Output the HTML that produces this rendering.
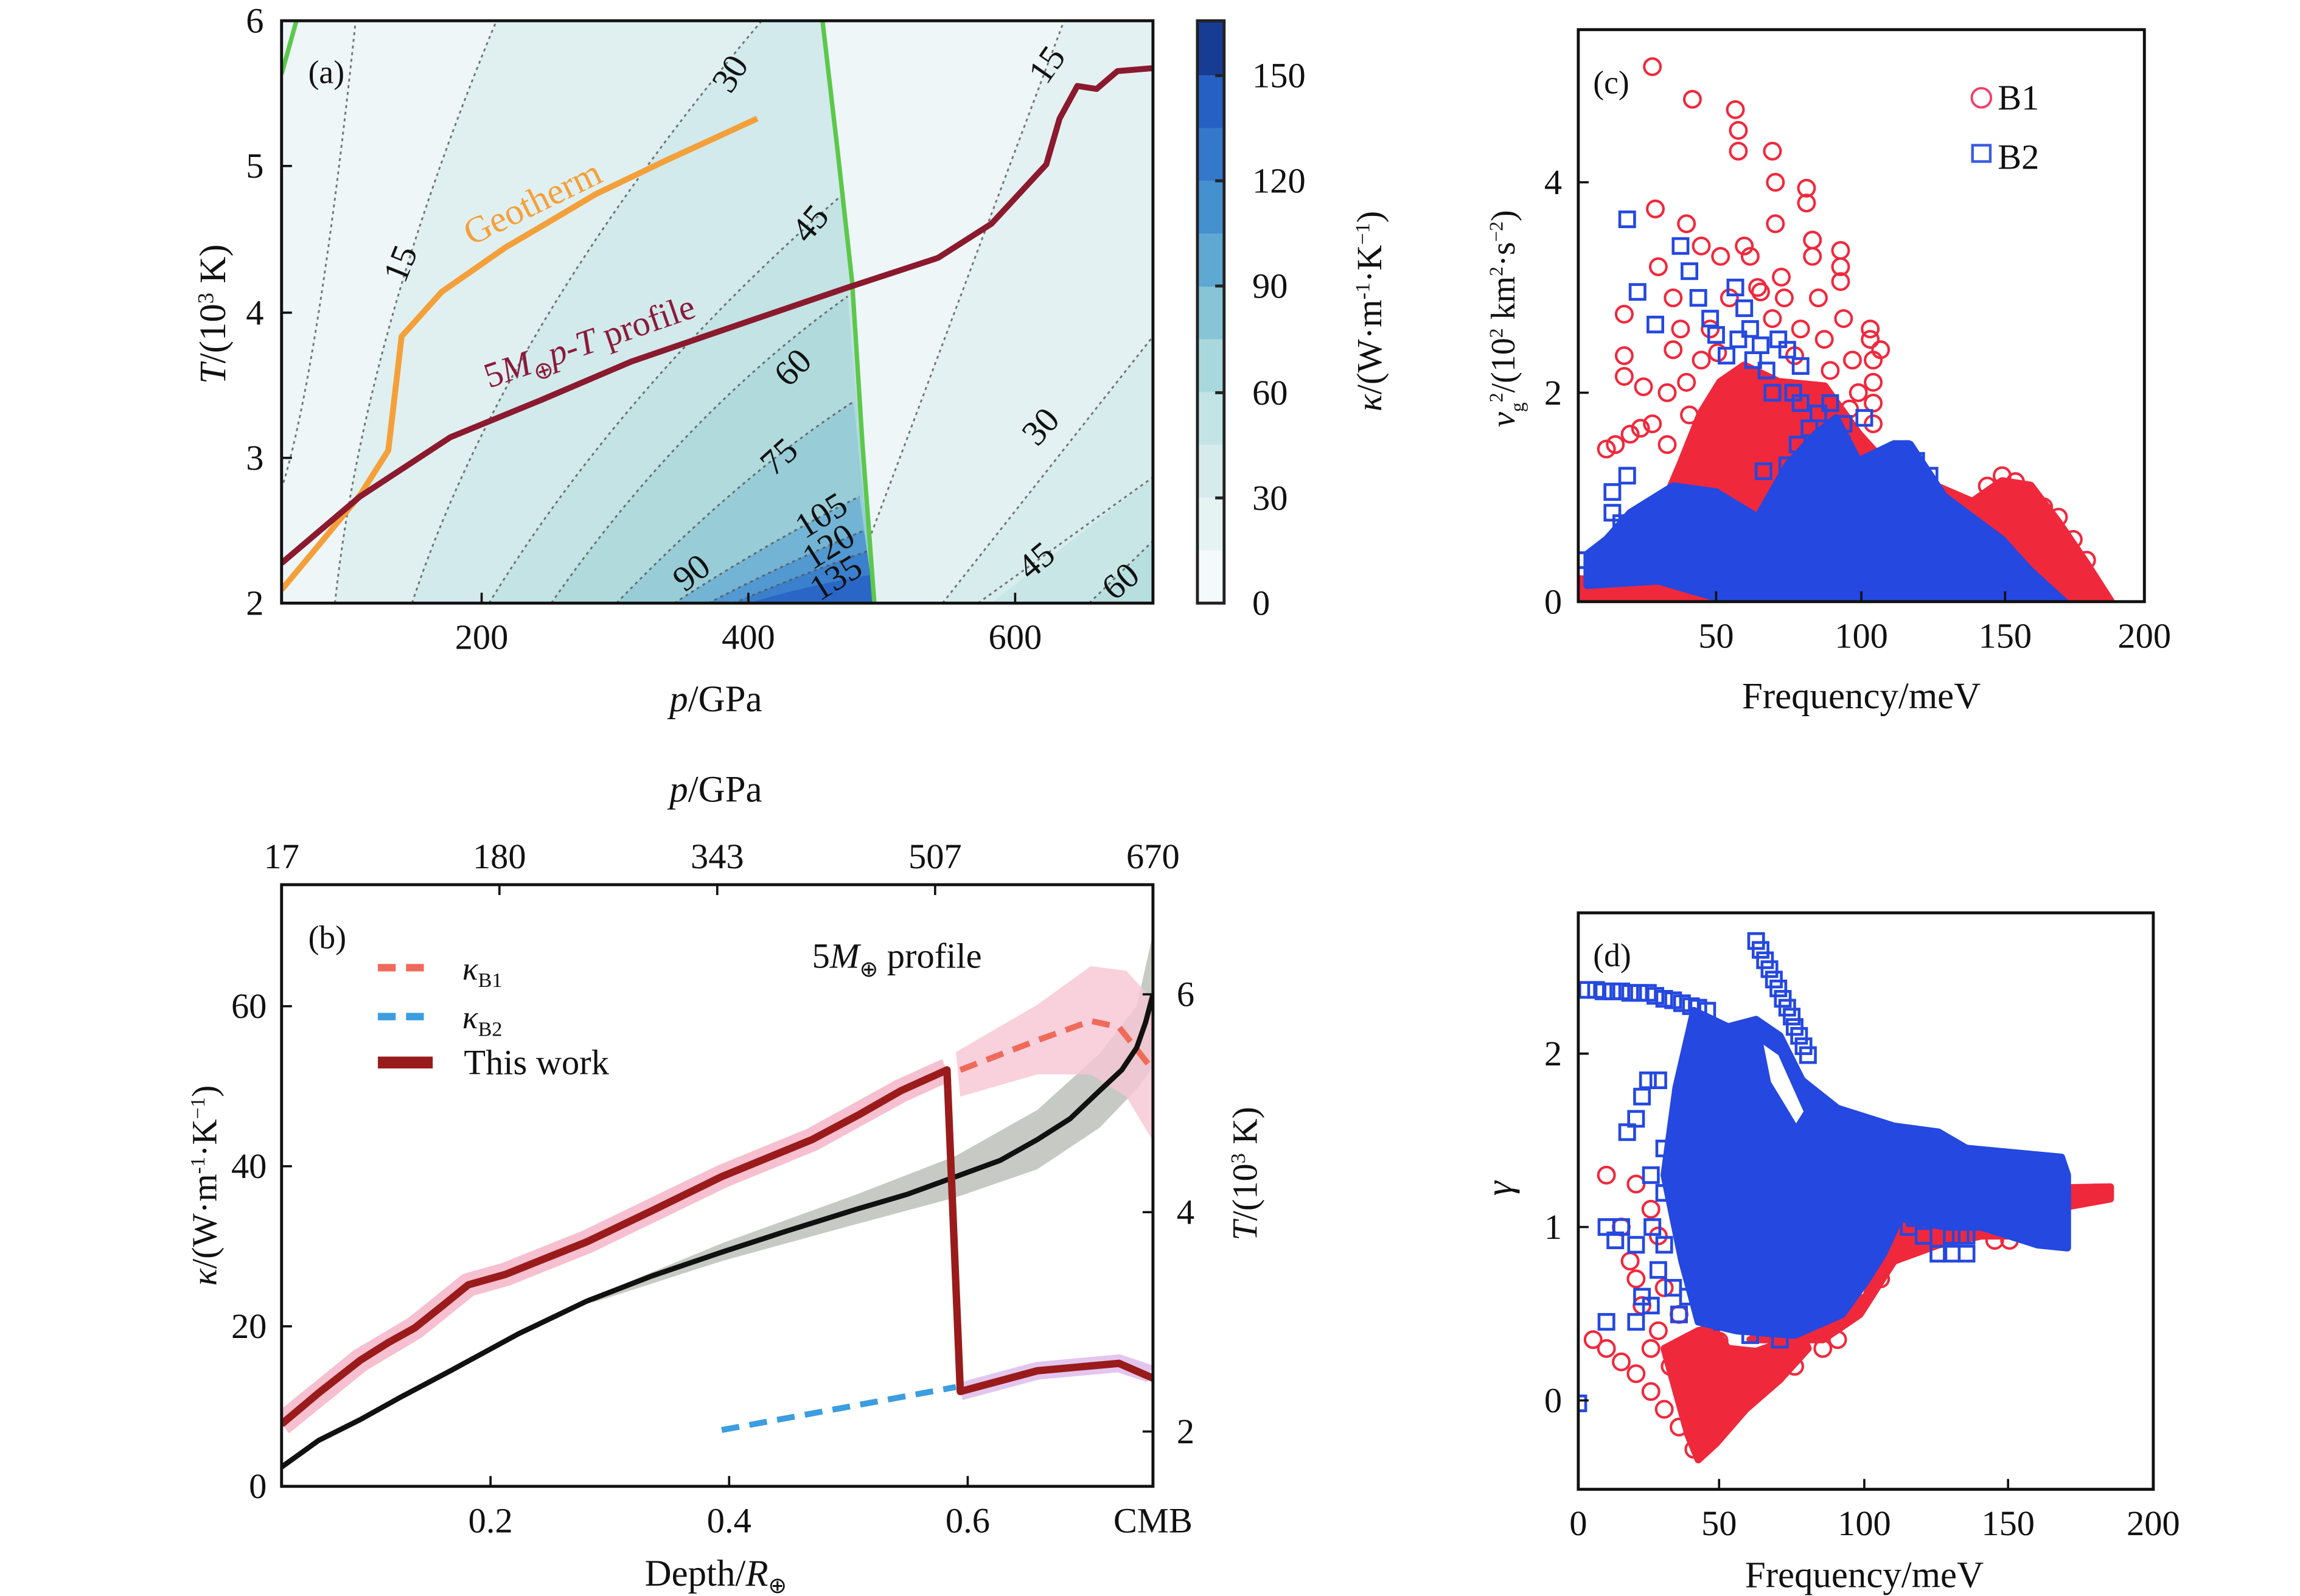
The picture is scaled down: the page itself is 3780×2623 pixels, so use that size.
<!DOCTYPE html>
<html><head><meta charset="utf-8"><style>
html,body{margin:0;padding:0;background:#fff}
svg{display:block}
text{font-family:"Liberation Serif",serif;fill:#111}
</style></head><body>
<svg width="3780" height="2623" viewBox="0 0 1552 1077" preserveAspectRatio="none" xmlns="http://www.w3.org/2000/svg" xmlns:xlink="http://www.w3.org/1999/xlink">
<defs>
<clipPath id="ca"><rect x="190" y="14" width="588" height="393"/></clipPath>
<clipPath id="cb"><rect x="190" y="597" width="588" height="406"/></clipPath>
<clipPath id="cc"><rect x="1065" y="20" width="382" height="386"/></clipPath>
<clipPath id="cd"><rect x="1065" y="616" width="388" height="389"/></clipPath>
<circle id="o" cx="0" cy="0" r="5.5" fill="none" stroke="#f0283c" stroke-width="1.7"/>
<rect id="q" x="-5" y="-5" width="10" height="10" fill="none" stroke="#2448e0" stroke-width="1.9"/>
</defs>
<rect width="1552" height="1077" fill="#fff"/>

<!-- ===== Panel (a) ===== -->
<g clip-path="url(#ca)">
<rect x="190" y="14" width="588" height="393" fill="#eef6f8"/>
<path d="M226,407 Q245,230 335,14 L555,14 L575,190 L590,407Z" fill="#e0f0f1"/>
<path d="M278,407 Q340,220 514,14 L555,14 L575,190 L590,407Z" fill="#d2eaeb"/>
<path d="M330,407 Q420,260 570,130 L575,190 L590,407Z" fill="#c3e3e4"/>
<path d="M372,407 Q460,280 572,200 L590,407Z" fill="#b1dadd"/>
<path d="M416,407 Q500,320 576,271 L590,407Z" fill="#98cdd8"/>
<path d="M455,407 Q520,365 580,335 L590,407Z" fill="#73b4d4"/>
<path d="M478,407 Q530,380 583,358 L590,407Z" fill="#5298d1"/>
<path d="M495,407 Q540,388 585,372 L590,407Z" fill="#3b80cc"/>
<path d="M505,407 Q545,395 587,388 L590,407Z" fill="#2a66c6"/>
<path d="M588,360 L718,14 L778,14 L778,407 L590,407Z" fill="#e4f1f2"/>
<path d="M636,407 L778,227 L778,407Z" fill="#d7ecec"/>
<path d="M669,407 L778,322 L778,407Z" fill="#c8e6e6"/>
<path d="M735,407 L778,365 L778,407Z" fill="#b8dfe0"/>
<g fill="none" stroke="#555" stroke-width="1.2" stroke-dasharray="2,2.5" opacity="0.8">
<path d="M190,330 Q215,250 240,14"/>
<path d="M226,407 Q245,230 335,14"/>
<path d="M278,407 Q340,220 514,14"/>
<path d="M330,407 Q420,260 570,130"/>
<path d="M372,407 Q460,280 572,200"/>
<path d="M416,407 Q500,320 576,271"/>
<path d="M455,407 Q520,365 580,335"/>
<path d="M478,407 Q530,380 583,358"/>
<path d="M495,407 Q540,388 585,372"/>
<path d="M588,360 L718,14"/>
<path d="M636,407 L778,227"/>
<path d="M660,407 L778,322"/>
<path d="M735,407 L778,365"/>
</g>
<path d="M555,14 L565,100 L575,190 L582,300 L590,407" fill="none" stroke="#5cc84a" stroke-width="3"/>
<path d="M190,50 L200,14" fill="none" stroke="#5cc84a" stroke-width="3"/>
<polyline points="190,398 215,368 243,334 262,304 266,270 271,227 298,197 341,167 370,150 402,131 450,108 511,80" fill="none" stroke="#f4a03a" stroke-width="4" stroke-linejoin="round"/>
<polyline points="190,380 243,335 304,295 365,270 426,244 487,223 572,194 633,174 669,151 706,111 715,80 727,58 740,60 754,48 778,46" fill="none" stroke="#8b1a2e" stroke-width="4" stroke-linejoin="round"/>
</g>
<rect x="190" y="14" width="588" height="393" fill="none" stroke="#111" stroke-width="2"/>
<g font-size="24">
<text x="208" y="56" font-size="22">(a)</text>
<text transform="translate(273,192) rotate(-68)">15</text>
<text transform="translate(493,64) rotate(-58)">30</text>
<text transform="translate(545,165) rotate(-50)">45</text>
<text transform="translate(532,262) rotate(-45)">60</text>
<text transform="translate(522,322) rotate(-42)">75</text>
<text transform="translate(462,400) rotate(-38)">90</text>
<text transform="translate(543,364) rotate(-32)">105</text>
<text transform="translate(548,385) rotate(-32)">120</text>
<text transform="translate(553,406) rotate(-32)">135</text>
<text transform="translate(706,58) rotate(-55)">15</text>
<text transform="translate(700,302) rotate(-48)">30</text>
<text transform="translate(695,392) rotate(-40)">45</text>
<text transform="translate(752,406) rotate(-40)">60</text>
<text transform="translate(318,166) rotate(-26)" font-size="25" style="fill:#f4a03a">Geotherm</text>
<text transform="translate(330,262) rotate(-19)" style="fill:#8b1a3a">5<tspan font-style="italic">M</tspan><tspan font-size="16" dy="6">⊕</tspan><tspan dy="-6" font-style="italic">p</tspan>-<tspan font-style="italic">T</tspan> profile</text>
<text x="178" y="22" text-anchor="end">6</text>
<text x="178" y="120" text-anchor="end">5</text>
<text x="178" y="219" text-anchor="end">4</text>
<text x="178" y="317" text-anchor="end">3</text>
<text x="178" y="415" text-anchor="end">2</text>
<text x="325" y="438" text-anchor="middle">200</text>
<text x="505" y="438" text-anchor="middle">400</text>
<text x="685" y="438" text-anchor="middle">600</text>
<text x="483" y="480" text-anchor="middle" font-size="25"><tspan font-style="italic">p</tspan>/GPa</text>
<text transform="translate(152,212) rotate(-90)" text-anchor="middle" font-size="25"><tspan font-style="italic">T</tspan>/(10<tspan font-size="15" dy="-8">3</tspan><tspan dy="8"> K)</tspan></text>
</g>
<g stroke="#111" stroke-width="1.5">
<line x1="325" y1="407" x2="325" y2="400"/><line x1="505" y1="407" x2="505" y2="400"/><line x1="685" y1="407" x2="685" y2="400"/>
<line x1="190" y1="112" x2="197" y2="112"/><line x1="190" y1="211" x2="197" y2="211"/><line x1="190" y1="309" x2="197" y2="309"/>
</g>
<!-- colorbar -->
<g>
<rect x="808" y="371.4" width="18" height="35.6" fill="#f4f9fb"/>
<rect x="808" y="335.8" width="18" height="35.6" fill="#e6f3f3"/>
<rect x="808" y="300.2" width="18" height="35.6" fill="#d6ecec"/>
<rect x="808" y="264.6" width="18" height="35.6" fill="#c3e4e4"/>
<rect x="808" y="229" width="18" height="35.6" fill="#a9d8dc"/>
<rect x="808" y="193.4" width="18" height="35.6" fill="#86c4d6"/>
<rect x="808" y="157.8" width="18" height="35.6" fill="#5ea8d2"/>
<rect x="808" y="122.2" width="18" height="35.6" fill="#4590cf"/>
<rect x="808" y="86.6" width="18" height="35.6" fill="#3478cb"/>
<rect x="808" y="51" width="18" height="35.6" fill="#2660c2"/>
<rect x="808" y="14" width="18" height="37" fill="#173c94"/>
<rect x="808" y="14" width="18" height="393" fill="none" stroke="#222" stroke-width="2"/>
<g stroke="#222" stroke-width="2">
<line x1="820" y1="51" x2="826" y2="51"/><line x1="820" y1="122" x2="826" y2="122"/><line x1="820" y1="193" x2="826" y2="193"/><line x1="820" y1="265" x2="826" y2="265"/><line x1="820" y1="336" x2="826" y2="336"/>
</g>
<g font-size="24">
<text x="845" y="59">150</text><text x="845" y="130">120</text><text x="845" y="201">90</text><text x="845" y="273">60</text><text x="845" y="344">30</text><text x="845" y="415">0</text>
<text transform="translate(932,210) rotate(-90)" text-anchor="middle" font-size="24"><tspan font-style="italic">κ</tspan>/(W·m<tspan font-size="14" dy="-8">-1</tspan><tspan dy="8">·K</tspan><tspan font-size="14" dy="-8">−1</tspan><tspan dy="8">)</tspan></text>
</g>
</g>

<!-- ===== Panel (b) ===== -->
<g clip-path="url(#cb)">
<polygon points="400,875 487,839 578,806 645,780 700,749 742,711 767,679 778,630 778,720 767,735 742,761 700,789 645,808 578,826 487,851 400,879" fill="#b9bdb5" opacity="0.8"/>
<polyline points="190,961 243,918 280,896 316,867 341,860 396,838 487,794 548,769 608,736 639,722" fill="none" stroke="#f6c0d0" stroke-width="16" stroke-linejoin="round"/>
<polygon points="645,710 700,678 736,652 760,655 778,675 778,770 760,740 736,725 700,725 648,740" fill="#f6c5d5" opacity="0.8"/>
<polyline points="648,939 700,925 755,920 776,927" fill="none" stroke="#e3c6ee" stroke-width="12"/>
<polyline points="648,722 700,702 736,689 755,693 778,722" fill="none" stroke="#f06a5a" stroke-width="4" stroke-dasharray="12,7"/>
<polyline points="487,965 645,936" fill="none" stroke="#3c9de0" stroke-width="4" stroke-dasharray="12,7"/>
<polyline points="190,990 215,972 243,958 270,943 304,925 350,900 396,878 440,861 487,845 530,831 578,816 612,806 645,794 675,783 700,769 722,755 742,736 757,722 767,707 773,690 778,671" fill="none" stroke="#111" stroke-width="3.5"/>
<polyline points="190,961 215,940 243,918 262,906 280,896 300,880 316,867 341,860 396,838 440,817 487,794 548,769 580,752 608,736 639,722 648,939 700,925 755,920 778,930" fill="none" stroke="#9a1b1b" stroke-width="5" stroke-linejoin="round"/>
</g>
<rect x="190" y="597" width="588" height="406" fill="none" stroke="#111" stroke-width="2"/>
<g stroke="#111" stroke-width="1.5">
<line x1="337" y1="597" x2="337" y2="604"/><line x1="484" y1="597" x2="484" y2="604"/><line x1="631" y1="597" x2="631" y2="604"/>
<line x1="331" y1="1003" x2="331" y2="996"/><line x1="492" y1="1003" x2="492" y2="996"/><line x1="653" y1="1003" x2="653" y2="996"/>
<line x1="190" y1="679" x2="197" y2="679"/><line x1="190" y1="787" x2="197" y2="787"/><line x1="190" y1="895" x2="197" y2="895"/>
<line x1="778" y1="671" x2="771" y2="671"/><line x1="778" y1="818" x2="771" y2="818"/><line x1="778" y1="966" x2="771" y2="966"/>
</g>
<g font-size="24">
<text x="208" y="640" font-size="22">(b)</text>
<line x1="255" y1="653" x2="292" y2="653" stroke="#f06a5a" stroke-width="5" stroke-dasharray="12,7"/>
<line x1="255" y1="686" x2="292" y2="686" stroke="#3c9de0" stroke-width="5" stroke-dasharray="12,7"/>
<line x1="255" y1="717" x2="292" y2="717" stroke="#9a1b1b" stroke-width="8"/>
<text x="312" y="661" font-style="italic" font-size="22">κ<tspan font-style="normal" font-size="14" dy="5">B1</tspan></text>
<text x="312" y="694" font-style="italic" font-size="22">κ<tspan font-style="normal" font-size="14" dy="5">B2</tspan></text>
<text x="313" y="725">This work</text>
<text x="548" y="653">5<tspan font-style="italic">M</tspan><tspan font-size="15" dy="6">⊕</tspan><tspan dy="-6"> profile</tspan></text>
<text x="190" y="586" text-anchor="middle">17</text>
<text x="337" y="586" text-anchor="middle">180</text>
<text x="484" y="586" text-anchor="middle">343</text>
<text x="631" y="586" text-anchor="middle">507</text>
<text x="778" y="586" text-anchor="middle">670</text>
<text x="483" y="541" text-anchor="middle" font-size="25"><tspan font-style="italic">p</tspan>/GPa</text>
<text x="180" y="687" text-anchor="end">60</text>
<text x="180" y="795" text-anchor="end">40</text>
<text x="180" y="903" text-anchor="end">20</text>
<text x="180" y="1011" text-anchor="end">0</text>
<text x="794" y="679">6</text><text x="794" y="826">4</text><text x="794" y="974">2</text>
<text x="331" y="1034" text-anchor="middle">0.2</text>
<text x="492" y="1034" text-anchor="middle">0.4</text>
<text x="653" y="1034" text-anchor="middle">0.6</text>
<text x="778" y="1034" text-anchor="middle">CMB</text>
<text x="483" y="1070" text-anchor="middle" font-size="25">Depth/<tspan font-style="italic">R</tspan><tspan font-size="15" dy="5">⊕</tspan></text>
<text transform="translate(146,800) rotate(-90)" text-anchor="middle"><tspan font-style="italic">κ</tspan>/(W·m<tspan font-size="14" dy="-8">-1</tspan><tspan dy="8">·K</tspan><tspan font-size="14" dy="-8">−1</tspan><tspan dy="8">)</tspan></text>
<text transform="translate(848,792) rotate(-90)" text-anchor="middle"><tspan font-style="italic">T</tspan>/(10<tspan font-size="14" dy="-8">3</tspan><tspan dy="8"> K)</tspan></text>
</g>

<!-- ===== Panel (c) ===== -->
<g clip-path="url(#cc)">
<polygon points="1134,314 1148,279 1161,258 1177,247 1200,258 1231,261 1254,293 1273,314 1331,339 1351,325 1370,328 1389,353 1408,381 1424,406 1177,406 1138,385 1119,349" fill="#f0283c" stroke="#f0283c" stroke-width="6" stroke-linejoin="round"/>
<polygon points="1065,388 1109,392 1158,402 1167,406 1065,406" fill="#f0283c"/>
<g>
<use xlink:href="#o" x="1115" y="45"/><use xlink:href="#o" x="1142" y="67"/><use xlink:href="#o" x="1171" y="74"/><use xlink:href="#o" x="1173" y="88"/><use xlink:href="#o" x="1173" y="102"/><use xlink:href="#o" x="1196" y="102"/><use xlink:href="#o" x="1198" y="123"/><use xlink:href="#o" x="1198" y="151"/><use xlink:href="#o" x="1219" y="127"/><use xlink:href="#o" x="1219" y="137"/><use xlink:href="#o" x="1223" y="162"/><use xlink:href="#o" x="1223" y="173"/><use xlink:href="#o" x="1242" y="169"/><use xlink:href="#o" x="1242" y="180"/><use xlink:href="#o" x="1242" y="190"/><use xlink:href="#o" x="1117" y="141"/><use xlink:href="#o" x="1138" y="151"/><use xlink:href="#o" x="1177" y="166"/><use xlink:href="#o" x="1148" y="166"/><use xlink:href="#o" x="1202" y="187"/><use xlink:href="#o" x="1204" y="201"/><use xlink:href="#o" x="1227" y="201"/><use xlink:href="#o" x="1244" y="215"/><use xlink:href="#o" x="1262" y="222"/><use xlink:href="#o" x="1262" y="229"/><use xlink:href="#o" x="1264" y="243"/><use xlink:href="#o" x="1264" y="258"/><use xlink:href="#o" x="1264" y="272"/><use xlink:href="#o" x="1264" y="286"/><use xlink:href="#o" x="1096" y="212"/><use xlink:href="#o" x="1096" y="240"/><use xlink:href="#o" x="1096" y="254"/><use xlink:href="#o" x="1109" y="261"/><use xlink:href="#o" x="1084" y="303"/><use xlink:href="#o" x="1090" y="300"/><use xlink:href="#o" x="1100" y="293"/><use xlink:href="#o" x="1115" y="286"/><use xlink:href="#o" x="1125" y="265"/><use xlink:href="#o" x="1129" y="236"/><use xlink:href="#o" x="1134" y="222"/><use xlink:href="#o" x="1154" y="222"/><use xlink:href="#o" x="1167" y="201"/><use xlink:href="#o" x="1186" y="194"/><use xlink:href="#o" x="1196" y="215"/><use xlink:href="#o" x="1215" y="222"/><use xlink:href="#o" x="1235" y="250"/><use xlink:href="#o" x="1254" y="265"/><use xlink:href="#o" x="1119" y="180"/><use xlink:href="#o" x="1129" y="201"/><use xlink:href="#o" x="1161" y="173"/><use xlink:href="#o" x="1181" y="173"/><use xlink:href="#o" x="1188" y="197"/><use xlink:href="#o" x="1231" y="229"/><use xlink:href="#o" x="1250" y="243"/><use xlink:href="#o" x="1269" y="236"/><use xlink:href="#o" x="1107" y="289"/><use xlink:href="#o" x="1138" y="258"/><use xlink:href="#o" x="1148" y="243"/><use xlink:href="#o" x="1351" y="321"/><use xlink:href="#o" x="1370" y="335"/><use xlink:href="#o" x="1379" y="342"/><use xlink:href="#o" x="1389" y="349"/><use xlink:href="#o" x="1399" y="364"/><use xlink:href="#o" x="1408" y="378"/><use xlink:href="#o" x="1360" y="325"/><use xlink:href="#o" x="1341" y="328"/><use xlink:href="#o" x="1125" y="300"/><use xlink:href="#o" x="1140" y="280"/><use xlink:href="#o" x="1159" y="238"/><use xlink:href="#o" x="1211" y="240"/><use xlink:href="#o" x="1248" y="276"/><use xlink:href="#o" x="1076" y="392"/><use xlink:href="#o" x="1090" y="392"/>
</g>
<polygon points="1071,374 1084,364 1100,346 1129,328 1158,332 1186,349 1206,314 1225,293 1239,282 1254,311 1277,300 1289,300 1312,335 1351,364 1370,385 1393,406 1167,406 1119,392 1071,395" fill="#2448e0" stroke="#2448e0" stroke-width="5" stroke-linejoin="round"/>
<g>
<use xlink:href="#q" x="1098" y="148"/><use xlink:href="#q" x="1134" y="166"/><use xlink:href="#q" x="1140" y="183"/><use xlink:href="#q" x="1105" y="197"/><use xlink:href="#q" x="1117" y="219"/><use xlink:href="#q" x="1146" y="201"/><use xlink:href="#q" x="1154" y="215"/><use xlink:href="#q" x="1171" y="194"/><use xlink:href="#q" x="1177" y="208"/><use xlink:href="#q" x="1181" y="222"/><use xlink:href="#q" x="1173" y="229"/><use xlink:href="#q" x="1183" y="243"/><use xlink:href="#q" x="1192" y="250"/><use xlink:href="#q" x="1200" y="229"/><use xlink:href="#q" x="1206" y="236"/><use xlink:href="#q" x="1196" y="265"/><use xlink:href="#q" x="1210" y="265"/><use xlink:href="#q" x="1215" y="272"/><use xlink:href="#q" x="1221" y="289"/><use xlink:href="#q" x="1227" y="279"/><use xlink:href="#q" x="1235" y="272"/><use xlink:href="#q" x="1244" y="286"/><use xlink:href="#q" x="1258" y="282"/><use xlink:href="#q" x="1206" y="314"/><use xlink:href="#q" x="1208" y="325"/><use xlink:href="#q" x="1231" y="335"/><use xlink:href="#q" x="1233" y="321"/><use xlink:href="#q" x="1088" y="332"/><use xlink:href="#q" x="1098" y="321"/><use xlink:href="#q" x="1088" y="346"/><use xlink:href="#q" x="1094" y="353"/><use xlink:href="#q" x="1067" y="378"/><use xlink:href="#q" x="1075" y="378"/><use xlink:href="#q" x="1158" y="226"/><use xlink:href="#q" x="1165" y="240"/><use xlink:href="#q" x="1188" y="233"/><use xlink:href="#q" x="1215" y="247"/><use xlink:href="#q" x="1283" y="303"/><use xlink:href="#q" x="1293" y="311"/><use xlink:href="#q" x="1302" y="321"/><use xlink:href="#q" x="1213" y="300"/><use xlink:href="#q" x="1243" y="300"/><use xlink:href="#q" x="1190" y="318"/>
</g>
</g>
<rect x="1065" y="20" width="382" height="386" fill="none" stroke="#111" stroke-width="2"/>
<g stroke="#111" stroke-width="1.5">
<line x1="1065" y1="265" x2="1072" y2="265"/><line x1="1065" y1="123" x2="1072" y2="123"/>
<line x1="1158" y1="406" x2="1158" y2="399"/><line x1="1256" y1="406" x2="1256" y2="399"/><line x1="1353" y1="406" x2="1353" y2="399"/>
</g>
<g font-size="24">
<text x="1075" y="63" font-size="22">(c)</text>
<circle cx="1337" cy="66" r="6.5" fill="none" stroke="#f0406a" stroke-width="1.6"/>
<text x="1348" y="74">B1</text>
<rect x="1331" y="98" width="12" height="11" fill="none" stroke="#3a5be0" stroke-width="1.8"/>
<text x="1348" y="114">B2</text>
<text x="1054" y="131" text-anchor="end">4</text>
<text x="1054" y="273" text-anchor="end">2</text>
<text x="1054" y="414" text-anchor="end">0</text>
<text x="1158" y="437" text-anchor="middle">50</text>
<text x="1256" y="437" text-anchor="middle">100</text>
<text x="1353" y="437" text-anchor="middle">150</text>
<text x="1447" y="437" text-anchor="middle">200</text>
<text x="1256" y="478" text-anchor="middle" font-size="25">Frequency/meV</text>
<text transform="translate(1022,215) rotate(-90)" text-anchor="middle" font-size="23"><tspan font-style="italic">v</tspan><tspan font-size="13" dy="6">g</tspan><tspan font-size="13" dy="-14">2</tspan><tspan dy="8">/(10</tspan><tspan font-size="13" dy="-8">2</tspan><tspan dy="8"> km</tspan><tspan font-size="13" dy="-8">2</tspan><tspan dy="8">·s</tspan><tspan font-size="13" dy="-8">−2</tspan><tspan dy="8">)</tspan></text>
</g>

<!-- ===== Panel (d) ===== -->
<g clip-path="url(#cd)">
<polygon points="1123,910 1139,968 1146,985 1158,974 1178,951 1201,931 1220,910 1216,901 1185,912 1166,910 1156,896 1146,898" fill="#f0283c" stroke="#f0283c" stroke-width="5" stroke-linejoin="round"/>
<polygon points="1259,875 1282,816 1294,805 1337,802 1375,802 1424,801 1424,809 1385,816 1366,834 1337,834 1308,840 1278,851 1255,887 1230,904 1181,904" fill="#f0283c" stroke="#f0283c" stroke-width="5" stroke-linejoin="round"/>
<g>
<use xlink:href="#o" x="1075" y="904"/><use xlink:href="#o" x="1084" y="910"/><use xlink:href="#o" x="1094" y="919"/><use xlink:href="#o" x="1104" y="927"/><use xlink:href="#o" x="1114" y="939"/><use xlink:href="#o" x="1123" y="951"/><use xlink:href="#o" x="1133" y="963"/><use xlink:href="#o" x="1143" y="978"/><use xlink:href="#o" x="1172" y="945"/><use xlink:href="#o" x="1191" y="933"/><use xlink:href="#o" x="1211" y="922"/><use xlink:href="#o" x="1084" y="793"/><use xlink:href="#o" x="1100" y="851"/><use xlink:href="#o" x="1104" y="863"/><use xlink:href="#o" x="1114" y="816"/><use xlink:href="#o" x="1119" y="834"/><use xlink:href="#o" x="1104" y="799"/><use xlink:href="#o" x="1108" y="881"/><use xlink:href="#o" x="1119" y="898"/><use xlink:href="#o" x="1127" y="922"/><use xlink:href="#o" x="1133" y="887"/><use xlink:href="#o" x="1114" y="910"/><use xlink:href="#o" x="1123" y="869"/><use xlink:href="#o" x="1139" y="927"/><use xlink:href="#o" x="1230" y="910"/><use xlink:href="#o" x="1240" y="904"/><use xlink:href="#o" x="1269" y="863"/><use xlink:href="#o" x="1346" y="837"/><use xlink:href="#o" x="1356" y="837"/><use xlink:href="#o" x="1414" y="805"/><use xlink:href="#o" x="1420" y="805"/><use xlink:href="#o" x="1094" y="828"/><use xlink:href="#o" x="1160" y="905"/>
</g>
<polygon points="1143,682 1166,693 1185,688 1201,699 1216,729 1240,748 1278,760 1308,764 1327,775 1391,781 1395,793 1395,842 1375,840 1337,828 1313,828 1282,822 1271,846 1259,865 1243,887 1211,901 1172,898 1146,892 1135,851 1123,793 1131,734" fill="#2448e0" stroke="#2448e0" stroke-width="5" stroke-linejoin="round"/>
<polygon points="1190,705 1200,712 1217,750 1212,758 1195,730" fill="#fff"/>
<g>
<use xlink:href="#q" x="1071" y="668"/><use xlink:href="#q" x="1077" y="668"/><use xlink:href="#q" x="1082" y="669"/><use xlink:href="#q" x="1088" y="669"/><use xlink:href="#q" x="1094" y="669"/><use xlink:href="#q" x="1100" y="670"/><use xlink:href="#q" x="1106" y="670"/><use xlink:href="#q" x="1112" y="670"/><use xlink:href="#q" x="1117" y="672"/><use xlink:href="#q" x="1123" y="674"/><use xlink:href="#q" x="1129" y="675"/><use xlink:href="#q" x="1135" y="677"/><use xlink:href="#q" x="1141" y="679"/><use xlink:href="#q" x="1146" y="680"/><use xlink:href="#q" x="1152" y="682"/>
<use xlink:href="#q" x="1185" y="635"/><use xlink:href="#q" x="1188" y="641"/><use xlink:href="#q" x="1191" y="648"/><use xlink:href="#q" x="1194" y="654"/><use xlink:href="#q" x="1197" y="661"/><use xlink:href="#q" x="1200" y="667"/><use xlink:href="#q" x="1203" y="674"/><use xlink:href="#q" x="1206" y="680"/><use xlink:href="#q" x="1209" y="686"/><use xlink:href="#q" x="1211" y="693"/><use xlink:href="#q" x="1214" y="699"/><use xlink:href="#q" x="1217" y="706"/><use xlink:href="#q" x="1220" y="712"/>
<use xlink:href="#q" x="1084" y="828"/><use xlink:href="#q" x="1094" y="828"/><use xlink:href="#q" x="1090" y="837"/><use xlink:href="#q" x="1104" y="755"/><use xlink:href="#q" x="1108" y="740"/><use xlink:href="#q" x="1112" y="729"/><use xlink:href="#q" x="1119" y="729"/><use xlink:href="#q" x="1123" y="775"/><use xlink:href="#q" x="1114" y="793"/><use xlink:href="#q" x="1123" y="805"/><use xlink:href="#q" x="1104" y="840"/><use xlink:href="#q" x="1108" y="875"/><use xlink:href="#q" x="1114" y="881"/><use xlink:href="#q" x="1084" y="892"/><use xlink:href="#q" x="1104" y="892"/><use xlink:href="#q" x="1133" y="887"/><use xlink:href="#q" x="1139" y="875"/><use xlink:href="#q" x="1123" y="840"/><use xlink:href="#q" x="1133" y="816"/><use xlink:href="#q" x="1143" y="793"/><use xlink:href="#q" x="1139" y="758"/><use xlink:href="#q" x="1152" y="734"/><use xlink:href="#q" x="1146" y="711"/><use xlink:href="#q" x="1288" y="828"/><use xlink:href="#q" x="1292" y="822"/><use xlink:href="#q" x="1298" y="834"/><use xlink:href="#q" x="1308" y="846"/><use xlink:href="#q" x="1317" y="846"/><use xlink:href="#q" x="1327" y="846"/><use xlink:href="#q" x="1323" y="834"/><use xlink:href="#q" x="1181" y="901"/><use xlink:href="#q" x="1201" y="904"/><use xlink:href="#q" x="1162" y="892"/><use xlink:href="#q" x="1152" y="881"/><use xlink:href="#q" x="1115" y="828"/><use xlink:href="#q" x="1129" y="869"/><use xlink:href="#q" x="1098" y="764"/><use xlink:href="#q" x="1119" y="857"/><use xlink:href="#q" x="1065" y="947"/><use xlink:href="#q" x="1317" y="834"/><use xlink:href="#q" x="1327" y="834"/>
</g>
</g>
<rect x="1065" y="616" width="388" height="389" fill="none" stroke="#111" stroke-width="2"/>
<g stroke="#111" stroke-width="1.5">
<line x1="1065" y1="945" x2="1072" y2="945"/><line x1="1065" y1="828" x2="1072" y2="828"/><line x1="1065" y1="711" x2="1072" y2="711"/>
<line x1="1160" y1="1005" x2="1160" y2="998"/><line x1="1258" y1="1005" x2="1258" y2="998"/><line x1="1355" y1="1005" x2="1355" y2="998"/>
</g>
<g font-size="24">
<text x="1075" y="652" font-size="22">(d)</text>
<text x="1054" y="953" text-anchor="end">0</text>
<text x="1054" y="836" text-anchor="end">1</text>
<text x="1054" y="719" text-anchor="end">2</text>
<text x="1065" y="1036" text-anchor="middle">0</text>
<text x="1160" y="1036" text-anchor="middle">50</text>
<text x="1258" y="1036" text-anchor="middle">100</text>
<text x="1355" y="1036" text-anchor="middle">150</text>
<text x="1453" y="1036" text-anchor="middle">200</text>
<text x="1258" y="1071" text-anchor="middle" font-size="25">Frequency/meV</text>
<text transform="translate(1020,802) rotate(-90)" text-anchor="middle" font-size="25" font-style="italic">γ</text>
</g>
</svg>
</body></html>
